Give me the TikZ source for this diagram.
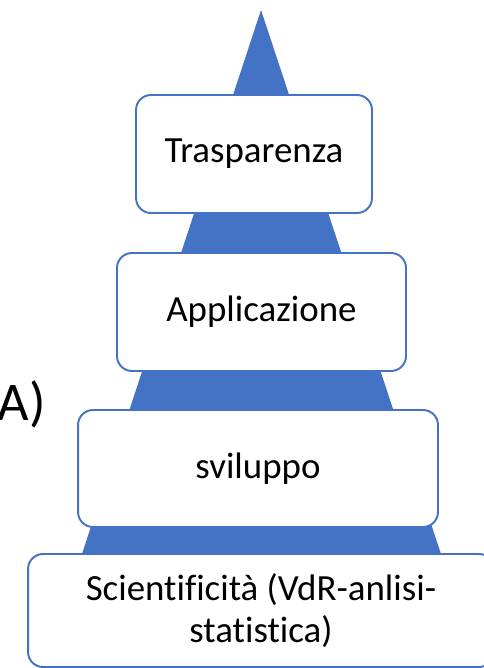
\documentclass[tikz,border=0pt]{standalone}
\usepackage{fontspec}
\setmainfont{Carlito}[Ligatures={NoCommon,NoContextual}]
\definecolor{pyrblue}{HTML}{4472C4}
\tikzset{
    level/.style={draw=pyrblue, line width=1.1pt, fill=white, rounded corners=8.5pt,
        align=center, font=\fontsize{21}{24}\selectfont}
}

\begin{document}
\begin{tikzpicture}[x=0.02cm, y=-0.02cm]
            \useasboundingbox (0,0) rectangle (483,668);

            % piramide
            \fill[pyrblue] (261,10) -- (80,560) -- (443,560) -- cycle;

            \node[level, minimum width=4.72cm, minimum height=2.36cm] (trasp) at (254,154) {Trasparenza};
            \node[level, minimum width=5.78cm, minimum height=2.36cm] (appl) at (261.5,312) {Applicazione};
            \node[level, minimum width=7.2cm, minimum height=2.34cm] (svil) at (258,468.5) {sviluppo};
            \node[level, minimum width=9.32cm, minimum height=2.26cm] (scient) at (261,610.5) {Scientificità (VdR-anlisi-\\statistica)};

            \node[anchor=base east, inner sep=0pt, font=\fontsize{31}{36}\selectfont] (lbl) at (46,420) {A)};
        \end{tikzpicture}
\end{document}
